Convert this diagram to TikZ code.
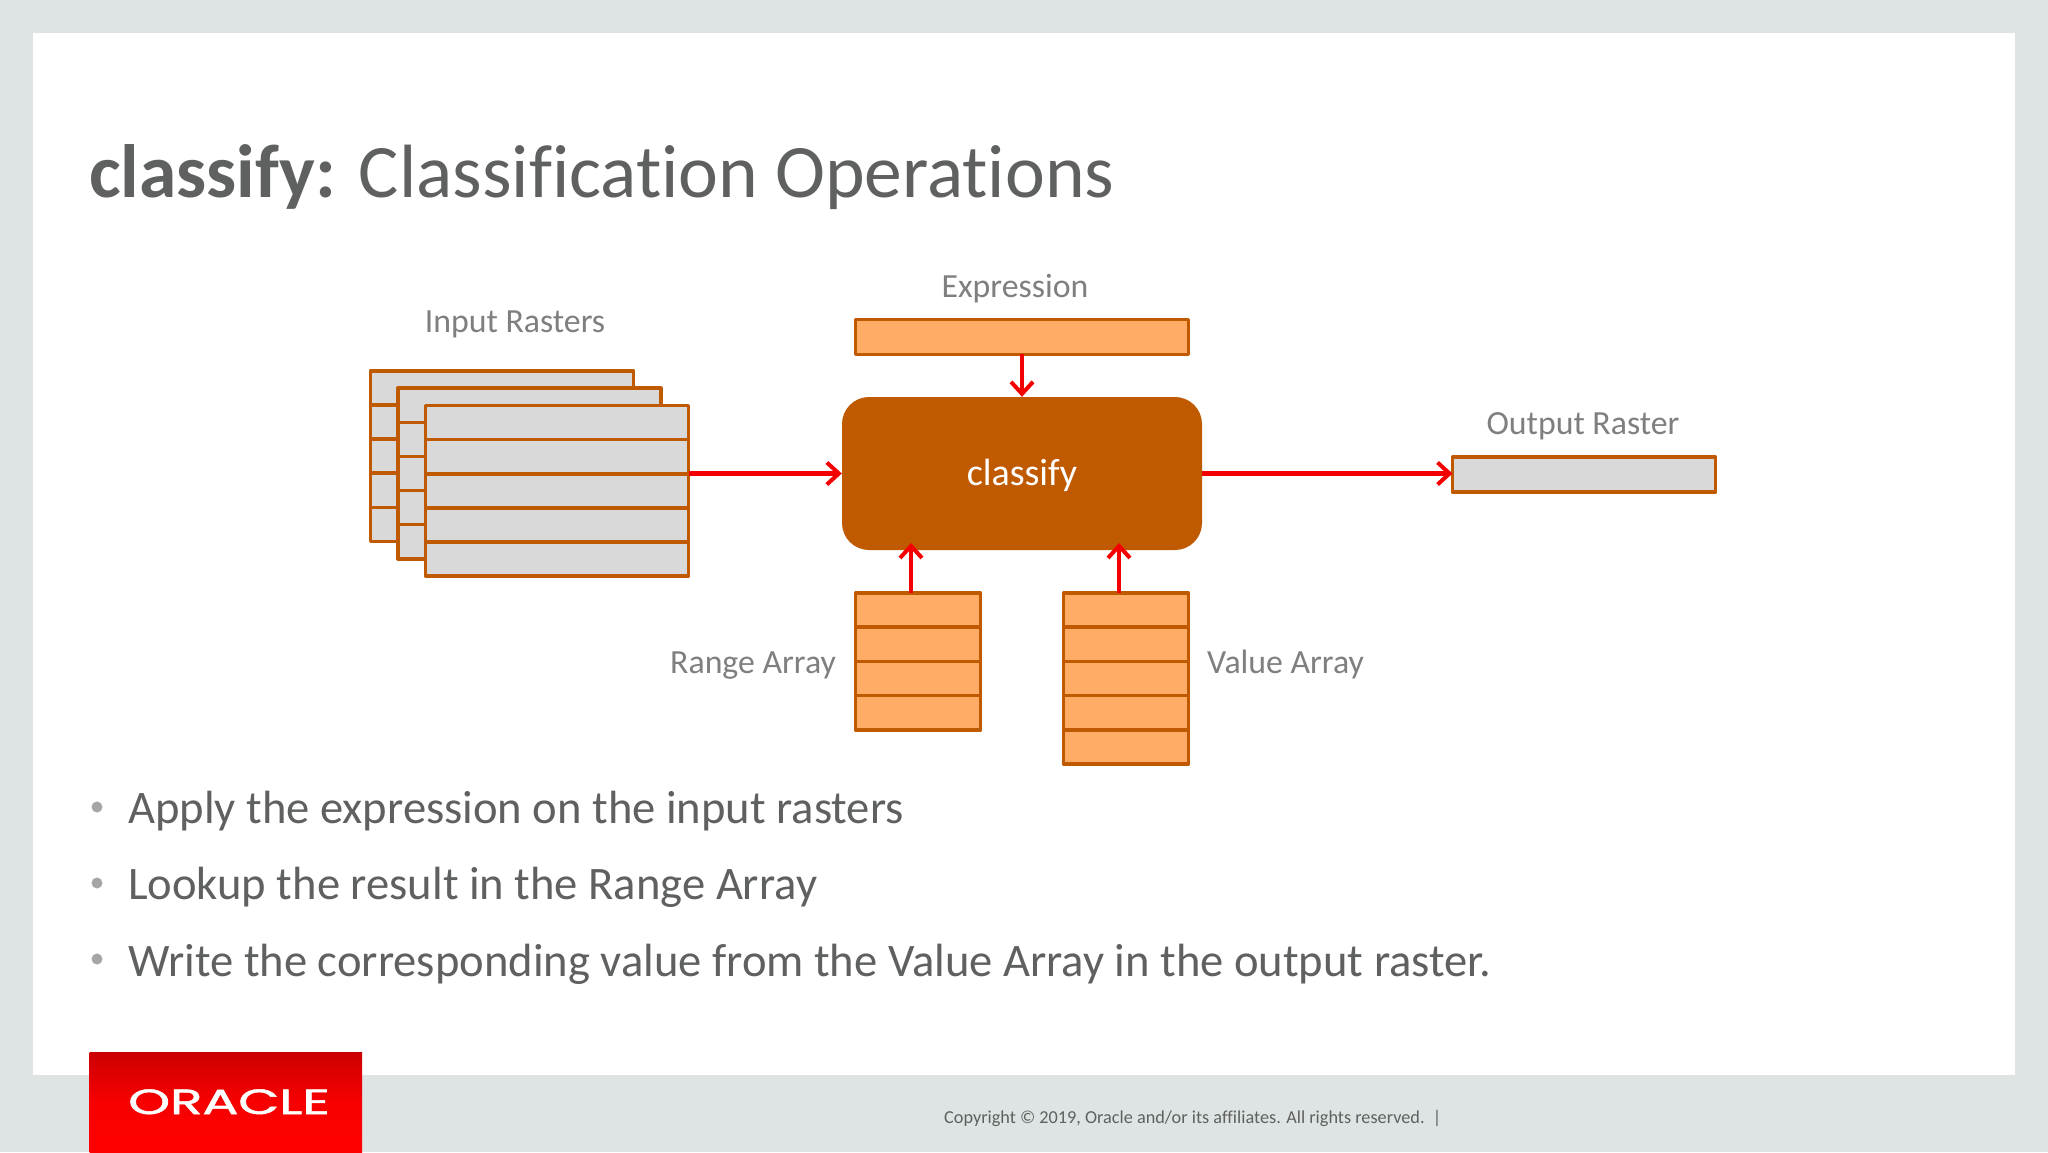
\documentclass[tikz,border=0pt]{standalone}
\usepackage{fontspec}
\setmainfont[Ligatures=NoCommon]{Carlito}
\newfontfamily\logofont{Poppins}
\usetikzlibrary{arrows.meta}
\definecolor{slidebg}{HTML}{DEE4E3}
\definecolor{edgeorange}{HTML}{C05A00}
\definecolor{cellgray}{HTML}{D9D9D9}
\definecolor{cellorange}{HTML}{FFAD66}
\definecolor{labelgray}{HTML}{7F7F7F}
\definecolor{bodygray}{HTML}{5F6060}
\definecolor{dotgray}{HTML}{A6A6A6}
\definecolor{flowred}{HTML}{F40000}
\tikzset{
  x=1pt,y=-1pt,
  cell/.style={draw=edgeorange,line width=3.6pt,rectangle,inner sep=0pt,outer sep=0pt,line join=round},
  graycell/.style={cell,fill=cellgray,minimum width=#1,minimum height=34.1pt},
  orangecell/.style={cell,fill=cellorange,minimum width=#1,minimum height=34.2pt},
  flow/.style={draw=flowred,line width=4.4pt,-{Straight Barb[length=12pt,width=22pt,line width=4pt]}},
  lbl/.style={text=labelgray,font=\fontsize{33.8}{38}\selectfont,inner sep=0pt,anchor=base},
  body/.style={text=bodygray,font=\fontsize{46.6}{52}\selectfont,inner sep=0pt,anchor=base west},
  dot/.style={circle,fill=dotgray,minimum size=11pt,inner sep=0pt},
}
\begin{document}
\begin{tikzpicture}
\useasboundingbox (0,0) rectangle (2048,1152);
\fill[slidebg] (0,0) rectangle (2048,1152);
\fill[white] (33,33) rectangle (2015,1075);
% title
\node[text=bodygray,font=\fontsize{75.5}{84}\selectfont,inner sep=0pt,anchor=base west] (title) at (89,197) {\textbf{classify:} Classification Operations};
% input rasters
\foreach \r in {0,...,4} {
  \node[graycell=263pt] (ia\r) at (502,{388+34.1*\r}) {};
}
\foreach \r in {0,...,4} {
  \node[graycell=263pt] (ib\r) at (529.3,{405.3+34.1*\r}) {};
}
\foreach \r in {0,...,4} {
  \node[graycell=263pt] (ic\r) at (557,{422.6+34.1*\r}) {};
}
\node[lbl] (inputlabel) at (515,332) {Input Rasters};
% expression
\node[orangecell=333pt,minimum height=34.8pt] (expression) at (1022,337) {};
\node[lbl] (expressionlabel) at (1015,297) {Expression};
% classify
\node[fill=edgeorange,rectangle,rounded corners=27pt,minimum width=360pt,minimum height=153pt,inner sep=0pt] (classify) at (1022,473.5) {};
\node[text=white,font=\fontsize{38}{42}\selectfont,inner sep=0pt,anchor=base] (classifytext) at (1022,485.5) {classify};
% range
\foreach \r in {0,...,3} {
  \node[orangecell=125pt] (range\r) at (918,{610+34.2*\r}) {};
}
\node[lbl,anchor=base west] (rangelabel) at (670,673) {Range Array};
% value
\foreach \r in {0,...,4} {
  \node[orangecell=125pt] (value\r) at (1126,{610+34.2*\r}) {};
}
\node[lbl,anchor=base west] (valuelabel) at (1207,673) {Value Array};
% output
\node[graycell=263pt,minimum height=35pt] (output) at (1584,474.5) {};
\node[lbl] (outputlabel) at (1583,434) {Output Raster};
% connectors
\coordinate (rangefoot) at (911,593);
\coordinate (rangehead) at (911,543);
\coordinate (valuefoot) at (1119,593);
\coordinate (valuehead) at (1119,543);
\draw[flow] (ic2.south east |- classify.west) -- (classify.west);
\draw[flow] (classify.east) -- (output.west |- classify.east);
\draw[flow] (expression.south) -- (classify.north);
\draw[flow] (rangefoot) -- (rangehead);
\draw[flow] (valuefoot) -- (valuehead);
% bullets
\node[dot] (d1) at (97,807) {};
\node[dot] (d2) at (97,883) {};
\node[dot] (d3) at (97,959) {};
\node[body] (b1) at (128,823.5) {Apply the expression on the input rasters};
\node[body] (b2) at (128,899.5) {Lookup the result in the Range Array};
\node[body] (b3) at (128,976) {Write the corresponding value from the Value Array in the output raster.};
% logo
\shade[top color=red!80!black,bottom color=red,middle color=red!97!black] (89.5,1052) rectangle (362,1152);
\node[text=white,inner sep=0pt,anchor=base] (logo) at (229,1114) {\logofont\fontsize{35}{40}\selectfont\addfontfeature{FakeBold=1.5}\scalebox{1.52}[1]{ORACLE}};
% footer
\node[text=bodygray,font=\fontsize{18.25}{20}\selectfont,inner sep=0pt,anchor=base west] (footer) at (944,1123) {Copyright © 2019, Oracle and/or its affiliates. All rights reserved.\ \ |};
\end{tikzpicture}
\end{document}
